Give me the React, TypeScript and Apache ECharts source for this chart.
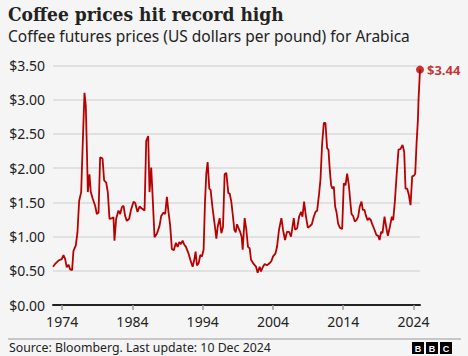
import React, { useEffect, useRef } from "react";
import * as echarts from "echarts";

// Arabica coffee futures, US$ per pound
const years: number[] = [
  1972.7, 1973.0, 1973.48, 1973.95, 1974.19, 1974.43, 1974.66, 1974.9, 1975.14, 1975.42,
  1975.61, 1975.95, 1976.18, 1976.42, 1976.71, 1976.94, 1977.18, 1977.37, 1977.51, 1977.66,
  1977.89, 1978.08, 1978.37, 1978.7, 1978.94, 1979.18, 1979.41, 1979.75, 1979.98, 1980.27,
  1980.5, 1980.74, 1981.12, 1981.31, 1981.45, 1981.69, 1982.02, 1982.26, 1982.5, 1982.74,
  1982.97, 1983.21, 1983.54, 1983.78, 1984.16, 1984.4, 1984.73, 1985.02, 1985.35, 1985.73,
  1985.97, 1986.25, 1986.44, 1986.68, 1986.92, 1987.15, 1987.49, 1987.87, 1988.1, 1988.43,
  1988.67, 1988.91, 1989.15, 1989.38, 1989.62, 1989.9, 1990.2, 1990.44, 1990.68, 1990.91,
  1991.15, 1991.39, 1991.63, 1992.0, 1992.34, 1992.58, 1992.81, 1993.0, 1993.19, 1993.43,
  1993.67, 1993.9, 1994.14, 1994.33, 1994.52, 1994.71, 1994.95, 1995.14, 1995.38, 1995.57,
  1995.76, 1995.95, 1996.14, 1996.42, 1996.66, 1996.9, 1997.13, 1997.37, 1997.66, 1997.85,
  1998.08, 1998.32, 1998.51, 1998.7, 1998.89, 1999.13, 1999.37, 1999.56, 1999.7, 1999.98,
  2000.22, 2000.45, 2000.69, 2000.89, 2001.26, 2001.6, 2001.83, 2002.12, 2002.31, 2002.59,
  2002.83, 2003.16, 2003.5, 2003.78, 2004.02, 2004.35, 2004.59, 2004.87, 2005.21, 2005.44,
  2005.73, 2006.01, 2006.3, 2006.58, 2006.73, 2006.97, 2007.16, 2007.45, 2007.73, 2008.02,
  2008.21, 2008.44, 2008.68, 2008.97, 2009.25, 2009.54, 2009.82, 2010.06, 2010.3, 2010.58,
  2010.77, 2011.01, 2011.25, 2011.48, 2011.72, 2011.91, 2012.1, 2012.29, 2012.48, 2012.67,
  2012.86, 2013.05, 2013.29, 2013.53, 2013.86, 2014.09, 2014.33, 2014.57, 2014.81, 2015.04,
  2015.19, 2015.42, 2015.66, 2015.9, 2016.14, 2016.37, 2016.61, 2016.8, 2017.04, 2017.23,
  2017.47, 2017.7, 2017.94, 2018.18, 2018.46, 2018.75, 2018.99, 2019.18, 2019.41, 2019.6,
  2019.89, 2020.13, 2020.36, 2020.65, 2020.93, 2021.12, 2021.36, 2021.6, 2021.88, 2022.17,
  2022.45, 2022.69, 2022.88, 2023.12, 2023.35, 2023.59, 2023.83, 2024.07, 2024.26, 2024.45,
  2024.64, 2024.73, 2024.94,
];

const prices: number[] = [
  0.56, 0.6, 0.65, 0.67, 0.73, 0.67, 0.55, 0.59, 0.52, 0.51,
  0.79, 0.87, 1.06, 1.52, 1.65, 2.38, 3.1, 2.91, 2.33, 1.65,
  1.91, 1.65, 1.55, 1.45, 1.33, 1.35, 2.16, 2.14, 1.82, 1.79,
  1.65, 1.26, 1.27, 1.28, 0.94, 1.26, 1.38, 1.33, 1.43, 1.45,
  1.3, 1.23, 1.26, 1.38, 1.51, 1.49, 1.36, 1.44, 1.41, 1.38,
  2.4, 2.47, 1.65, 2.01, 1.5, 0.99, 1.04, 1.16, 1.3, 1.35,
  1.33, 1.58, 1.35, 1.16, 0.82, 0.8, 0.91, 0.85, 0.92, 0.89,
  0.94, 0.88, 0.85, 0.75, 0.63, 0.56, 0.66, 0.78, 0.58, 0.61,
  0.73, 0.71, 0.81, 1.49, 1.92, 2.09, 1.7, 1.68, 1.44, 1.29,
  1.14, 0.97, 1.14, 1.27, 1.05, 1.14, 1.91, 1.93, 1.63, 1.63,
  1.51, 1.29, 1.1, 1.06, 1.18, 1.12, 1.06, 0.99, 0.81, 1.27,
  1.1, 0.85, 0.83, 0.66, 0.6, 0.56, 0.47, 0.56, 0.49, 0.56,
  0.6, 0.58, 0.61, 0.64, 0.71, 0.75, 0.85, 1.1, 1.27, 1.1,
  0.95, 1.07, 1.07, 1.0, 1.1, 1.27, 1.1, 1.12, 1.29, 1.36,
  1.29, 1.51, 1.31, 1.13, 1.15, 1.18, 1.29, 1.36, 1.38, 1.63,
  1.83, 2.36, 2.66, 2.66, 2.29, 2.27, 1.97, 1.75, 1.7, 1.73,
  1.44, 1.36, 1.19, 1.13, 1.11, 1.78, 1.75, 1.92, 1.75, 1.49,
  1.33, 1.3, 1.22, 1.24, 1.29, 1.44, 1.51, 1.39, 1.39, 1.31,
  1.24, 1.27, 1.24, 1.17, 1.1, 1.02, 1.01, 0.95, 1.07, 1.05,
  1.29, 1.14, 1.01, 1.14, 1.29, 1.24, 1.51, 1.88, 2.27, 2.28,
  2.34, 2.24, 1.7, 1.7, 1.61, 1.46, 1.88, 1.89, 1.92, 2.36,
  2.7, 3.0, 3.44,
];

const xTickYears: number[] = [1974, 1984, 1994, 2004, 2014, 2024];
const yTicks: number[] = [0, 0.5, 1, 1.5, 2, 2.5, 3, 3.5];

const TITLE = "Coffee prices hit record high";
const SUBTITLE = "Coffee futures prices (US dollars per pound) for Arabica";
const SOURCE = "Source: Bloomberg. Last update: 10 Dec 2024";

const RED = "#b80000";
const INK = "#222222";
const SANS = "'Noto Sans', 'Liberation Sans', sans-serif";

export default function App() {
  const ref = useRef<HTMLDivElement>(null);

  useEffect(() => {
    if (!ref.current) return;
    const chart = echarts.init(ref.current, undefined, { renderer: "svg" });
    const lineData = years.map((y, i) => [y, prices[i]]);
    const last = lineData[lineData.length - 1];

    chart.setOption({
      animation: false,
      backgroundColor: "#f5f5f5",
      textStyle: { fontFamily: SANS },
      grid: { left: 53, right: 48, top: 65.5, bottom: 51, containLabel: false },
      xAxis: {
        type: "value",
        min: years[0],
        max: years[years.length - 1],
        splitLine: { show: false },
        axisLine: { show: true, lineStyle: { color: INK, width: 2 } },
        axisTick: {
          show: true,
          length: 5,
          customValues: xTickYears,
          lineStyle: { color: "#9a9a9a", width: 1.5 },
        },
        axisLabel: {
          customValues: xTickYears,
          color: INK,
          fontSize: 14,
          margin: 9,
          fontFamily: SANS,
          formatter: (v: number) => String(Math.round(v)),
        },
      },
      yAxis: {
        type: "value",
        min: yTicks[0],
        max: yTicks[yTicks.length - 1],
        interval: 0.5,
        axisLine: { show: false },
        axisTick: { show: false },
        splitLine: { lineStyle: { color: "#dadada", width: 1.5 } },
        axisLabel: {
          color: INK,
          fontSize: 14,
          margin: 8,
          fontFamily: SANS,
          formatter: (v: number) => "$" + v.toFixed(2),
        },
      },
      series: [
        {
          type: "line",
          data: lineData,
          symbol: "none",
          lineStyle: { color: RED, width: 1.8 },
          z: 3,
        },
        {
          type: "scatter",
          data: [last],
          symbolSize: 8,
          itemStyle: { color: RED },
          z: 4,
          label: {
            show: true,
            position: "right",
            distance: 3,
            color: RED,
            fontWeight: "bold",
            fontSize: 13,
            fontFamily: SANS,
            formatter: (p: any) => "$" + p.value[1].toFixed(2),
          },
        },
      ],
      graphic: [
        {
          type: "text",
          left: 8,
          top: 4,
          style: {
            text: TITLE,
            fill: INK,
            font: "bold 19px 'DejaVu Serif Condensed', 'DejaVu Serif', serif",
          },
        },
        {
          type: "text",
          left: 8,
          top: 28,
          style: {
            text: SUBTITLE,
            fill: INK,
            font: "15.5px " + SANS,
          },
        },
        {
          type: "line",
          shape: { x1: 8, y1: 339, x2: 461, y2: 339 },
          style: { stroke: "#999999", lineWidth: 1 },
        },
        {
          type: "text",
          left: 9,
          top: 341,
          style: {
            text: SOURCE,
            fill: INK,
            font: "12.3px " + SANS,
          },
        },
        ...["B", "B", "C"].flatMap((ch, i) => [
          {
            type: "rect",
            shape: { x: 412 + i * 14, y: 342, width: 12, height: 12 },
            style: { fill: "#000000" },
          },
          {
            type: "text",
            x: 418 + i * 14,
            y: 348.5,
            style: {
              text: ch,
              fill: "#ffffff",
              font: "bold 9px 'Liberation Sans', sans-serif",
              textAlign: "center",
              textVerticalAlign: "middle",
            },
          },
        ]),
      ],
    });

    return () => chart.dispose();
  }, []);

  return (
    <div
      ref={ref}
      style={{ position: "fixed", left: 0, top: 0, width: 468, height: 356 }}
    />
  );
}
